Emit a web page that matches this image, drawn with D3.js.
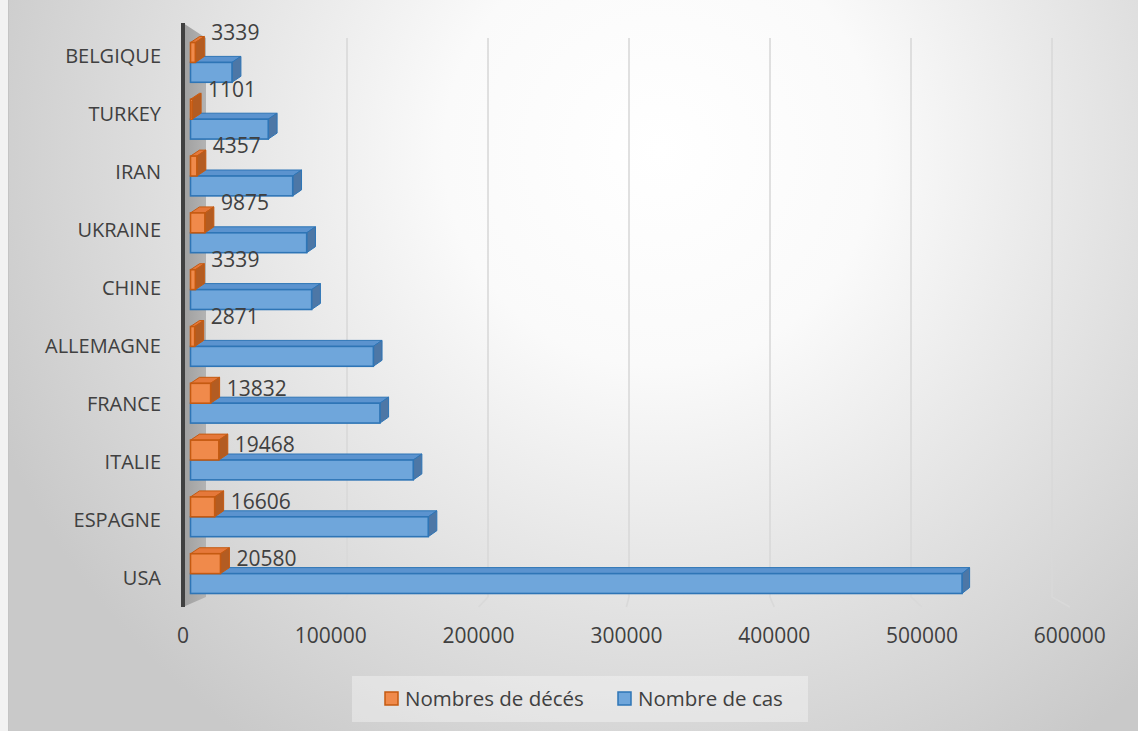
<!DOCTYPE html>
<html><head><meta charset="utf-8">
<script src="https://cdn.jsdelivr.net/npm/d3@7"></script>
<style>html,body{margin:0;padding:0;background:#f2f2f2;}svg{display:block;}</style>
</head><body>
<svg id="chart" width="1138" height="731"></svg>
<script>
const categories = ["BELGIQUE","TURKEY","IRAN","UKRAINE","CHINE","ALLEMAGNE","FRANCE","ITALIE","ESPAGNE","USA"];
const deaths = [3339,1101,4357,9875,3339,2871,13832,19468,16606,20580];
const cases = [28500,53400,70200,79800,83200,125600,130100,153000,163300,529900];
const tickValues = [0,100000,200000,300000,400000,500000,600000];
const seriesNames = ["Nombres de décés","Nombre de cas"];

const W = 1138, H = 731;
const svg = d3.select("#chart");
const font = "'Open Sans', sans-serif";
const txt = "#404040";

// background
const defs = svg.append("defs");
const rg = defs.append("radialGradient").attr("id","bg").attr("gradientUnits","userSpaceOnUse")
  .attr("cx",660).attr("cy",150).attr("r",720);
rg.append("stop").attr("offset",0).attr("stop-color","#ffffff");
rg.append("stop").attr("offset",0.3).attr("stop-color","#fafafa");
rg.append("stop").attr("offset",1).attr("stop-color","#c9c9c9");
const wg = defs.append("linearGradient").attr("id","wall").attr("x1",0).attr("x2",1).attr("y1",0).attr("y2",0);
wg.append("stop").attr("offset",0).attr("stop-color","#9f9f9f");
wg.append("stop").attr("offset",1).attr("stop-color","#b3b3b3");
svg.append("rect").attr("x",8).attr("y",0).attr("width",W-8).attr("height",H).attr("fill","url(#bg)");
svg.append("line").attr("x1",8.5).attr("x2",8.5).attr("y1",0).attr("y2",H).attr("stroke","#c4c4c4");

// scales (3D: front plane, back plane, bar front, bar back)
const xFront = d3.scaleLinear().domain([0,600000]).range([183,1069.8]);
const xBack = d3.scaleLinear().domain([0,600000]).range([206,1052]);
const xBar = d3.scaleLinear().domain([0,600000]).range([190.5,1064.1]);
const xBarBack = d3.scaleLinear().domain([0,600000]).range([199.5,1071.5]);
const depthDy = -6;
const yLabel = d3.scaleBand().domain(categories).range([27,607]).paddingInner(0.3).paddingOuter(0.15);
const yBar = d3.scaleBand().domain(categories).range([34,602]).paddingInner(0.3).paddingOuter(0.15);
const ySeries = d3.scaleBand().domain(["deaths","cases"]).range([0,yBar.bandwidth()]);

const wallTopF = 23, wallTopB = 38, floorB = 597, floorF = 607;

// gridlines (back wall + floor)
svg.append("g").selectAll("path").data(tickValues.filter(v=>v>0)).join("path")
  .attr("d", v => `M${xBack(v)},${wallTopB}L${xBack(v)},${floorB}L${xFront(v)},${floorF}`)
  .attr("fill","none").attr("stroke","#d9d9d9").attr("stroke-width",1.6);

// side wall
svg.append("path")
  .attr("d", `M${xFront(0)},${wallTopF}L${xBack(0)},${wallTopB}L${xBack(0)},${floorB}L${xFront(0)},${floorF}Z`)
  .attr("fill","url(#wall)");
svg.append("line").attr("x1",xFront(0)).attr("x2",xFront(0)).attr("y1",wallTopF).attr("y2",floorF)
  .attr("stroke","#404040").attr("stroke-width",4);

const styles = {
  deaths: {front:"#f08a4b", top:"#e5783a", side:"#b35c22", stroke:"#c55a11"},
  cases: {front:"#6fa6db", top:"#5b93cf", side:"#4d77a6", stroke:"#2e75b6"}
};

function box(g, v, cat, key){
  const s = styles[key];
  const x0 = xBar(0), x1 = xBar(v), xb0 = xBarBack(0), xb1 = xBarBack(v);
  const yt = yBar(cat) + ySeries(key), yb = yt + ySeries.bandwidth();
  g.append("path").attr("d",`M${x0},${yt}L${x1},${yt}L${xb1},${yt+depthDy}L${xb0},${yt+depthDy}Z`)
    .attr("fill",s.top).attr("stroke",s.stroke).attr("stroke-width",1);
  g.append("path").attr("d",`M${x1},${yt}L${xb1},${yt+depthDy}L${xb1},${yb+depthDy}L${x1},${yb}Z`)
    .attr("fill",s.side).attr("stroke",s.stroke).attr("stroke-width",1);
  g.append("rect").attr("x",x0).attr("y",yt).attr("width",x1-x0).attr("height",yb-yt)
    .attr("fill",s.front).attr("stroke",s.stroke).attr("stroke-width",1.6);
}

const bars = svg.append("g");
categories.forEach((c,i)=>{
  box(bars, cases[i], c, "cases");
  box(bars, deaths[i], c, "deaths");
});

// data labels (deaths)
svg.append("g").selectAll("text").data(categories).join("text")
  .attr("x",(c,i)=> xBar(deaths[i]) + 16)
  .attr("y",(c,i)=> yBar(c) + ySeries("deaths") + ySeries.bandwidth()/2 - (deaths[i] < 12000 ? 20 : 5))
  .attr("dy","0.35em")
  .attr("font-family",font).attr("font-size",21).attr("fill",txt)
  .text((c,i)=>deaths[i]);

// category labels
svg.append("g").selectAll("text").data(categories).join("text")
  .attr("x",161).attr("y",c=>yLabel(c)+yLabel.bandwidth()/2).attr("dy","0.35em")
  .attr("text-anchor","end").attr("font-family",font).attr("font-size",20).attr("fill",txt)
  .text(c=>c);

// value axis tick labels
svg.append("g").selectAll("text").data(tickValues).join("text")
  .attr("x",v=>xFront(v)).attr("y",636).attr("dy","0.35em")
  .attr("text-anchor","middle").attr("font-family",font).attr("font-size",21).attr("fill",txt)
  .text(v=>v);

// legend
const lg = svg.append("g");
lg.append("rect").attr("x",352).attr("y",676).attr("width",456).attr("height",46)
  .attr("fill","#ffffff").attr("fill-opacity",0.35);
const legendItems = [{name:seriesNames[0],key:"deaths",x:385},{name:seriesNames[1],key:"cases",x:618}];
legendItems.forEach(it=>{
  lg.append("rect").attr("x",it.x).attr("y",692).attr("width",13).attr("height",13)
    .attr("fill",styles[it.key].front).attr("stroke",styles[it.key].stroke).attr("stroke-width",1.5);
  lg.append("text").attr("x",it.x+20).attr("y",699).attr("dy","0.35em")
    .attr("font-family",font).attr("font-size",20.5).attr("fill",txt).text(it.name);
});
</script>
</body></html>
